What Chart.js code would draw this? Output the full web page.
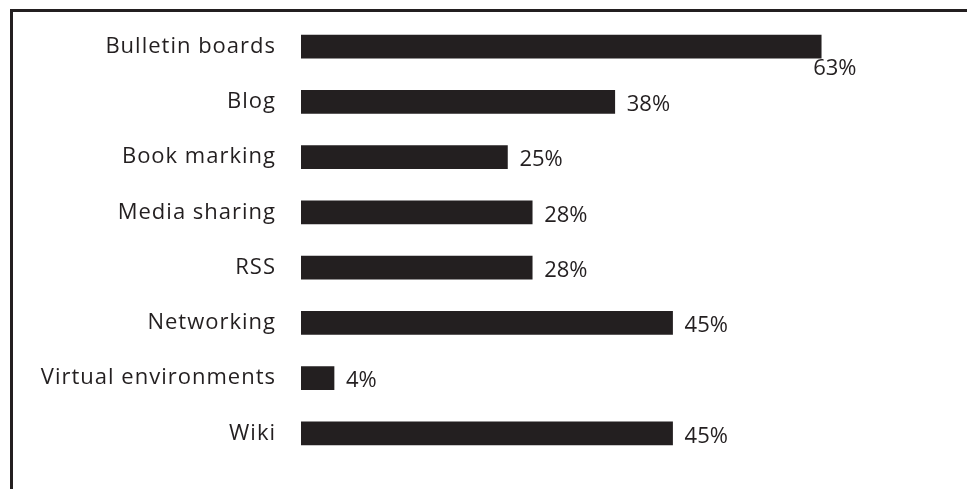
<!DOCTYPE html>
<html lang="en">
<head>
  <meta charset="UTF-8"/>
  <title>Web 2.0 tools</title>
  <script src="https://cdn.jsdelivr.net/npm/chart.js"></script>
  <style>
    html, body { margin: 0; padding: 0; background: #fff; }
    .frame { position: absolute; left: 10px; top: 9px; width: 957px; height: 480px;
             border-top: 3px solid #231f20; border-left: 3px solid #231f20; box-sizing: border-box; }
    .wrap { position: absolute; left: 0; top: 0; width: 967px; height: 489px; }
  </style>
</head>
<body>
  <div class="frame"></div>
  <div class="wrap"><canvas id="chart"></canvas></div>

  <script>
    // data
    const tools  = ["Bulletin boards", "Blog", "Book marking", "Media sharing", "RSS", "Networking", "Virtual environments", "Wiki"];
    const shares = [63, 38, 25, 28, 28, 45, 4, 45];

    const ink = "#231f20";
    const font = "'Open Sans', sans-serif";

    // a bit of tracking so the category labels get the width of the original face
    const tracking = {
      id: "tracking",
      beforeDraw(chart) { chart.ctx.letterSpacing = "1px"; }
    };

    // value labels next to bar ends (longest bar gets its label underneath)
    const valueLabels = {
      id: "valueLabels",
      afterDatasetsDraw(chart) {
        const ctx = chart.ctx;
        const meta = chart.getDatasetMeta(0);
        const top = Math.max(...shares);
        ctx.save();
        ctx.letterSpacing = "0px";
        ctx.fillStyle = ink;
        ctx.font = "22px " + font;
        ctx.textBaseline = "middle";
        meta.data.forEach((bar, i) => {
          const txt = shares[i] + "%";
          if (shares[i] === top) {
            ctx.fillText(txt, bar.x - 8, bar.y + 22);
          } else {
            ctx.fillText(txt, bar.x + 12, bar.y + 3);
          }
        });
        ctx.restore();
      }
    };

    new Chart(document.getElementById("chart"), {
      type: "bar",
      data: {
        labels: tools,
        datasets: [{
          data: shares,
          backgroundColor: ink,
          barThickness: 23
        }]
      },
      options: {
        indexAxis: "y",
        responsive: true,
        maintainAspectRatio: false,
        animation: false,
        layout: { padding: { top: 19, bottom: 28, left: 0, right: 88 } },
        plugins: { legend: { display: false }, tooltip: { enabled: false } },
        scales: {
          x: { display: false, min: 0, max: 70 },
          y: {
            grid: { display: false, drawTicks: false },
            border: { display: false },
            ticks: { color: ink, padding: 25, font: { family: font, size: 22 } },
            afterFit(s) {
              s.width = 301;
              // tick padding would otherwise push the plot area down
              s.paddingTop = 0;
              s.paddingBottom = 0;
            }
          }
        }
      },
      plugins: [tracking, valueLabels]
    });
  </script>
</body>
</html>
